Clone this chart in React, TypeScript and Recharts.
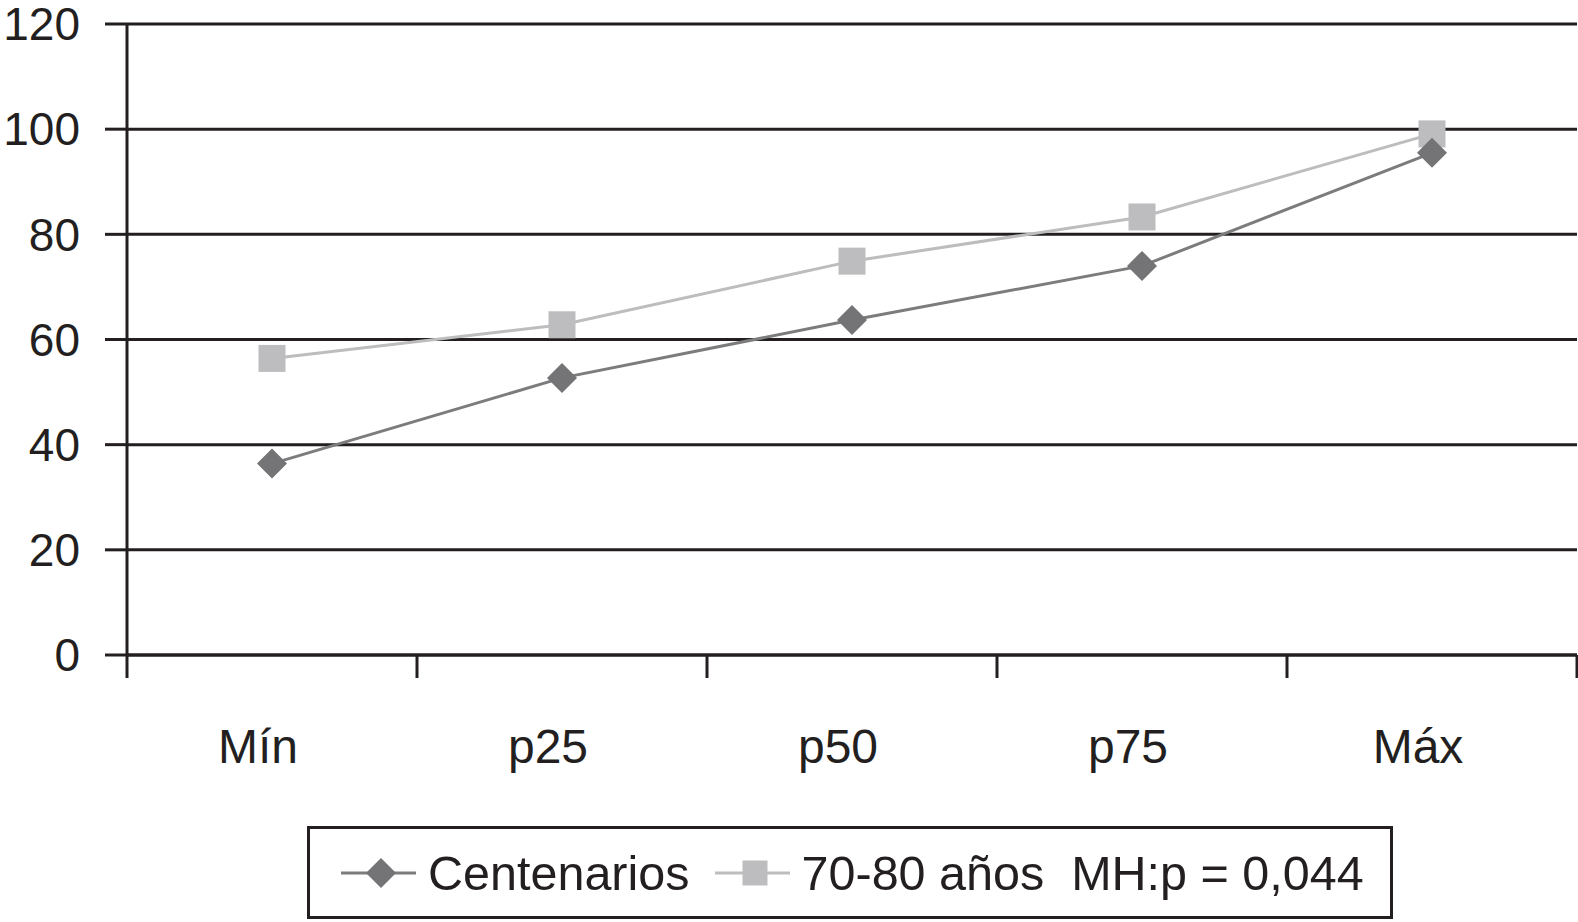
import { LineChart, Line, XAxis, YAxis, CartesianGrid } from 'recharts';

const categories = ['Mín', 'p25', 'p50', 'p75', 'Máx'];
const centenarios = [36.4, 52.7, 63.7, 74.0, 95.5];
const ancianos = [56.4, 62.8, 74.9, 83.3, 99.1];
const yTicks = [0, 20, 40, 60, 80, 100, 120];

const data = categories.map((cat, i) => ({ cat, centenarios: centenarios[i], ancianos: ancianos[i] }));

const INK = '#231f20';
const DARK = '#747476';
const LIGHT = '#bdbdbf';
const FONT = '"Liberation Sans", Arial, Helvetica, sans-serif';
const BAND = 290;

function XTick(props: any) {
  const { x, y, payload, index } = props;
  return (
    <g>
      <line x1={x - BAND / 2} x2={x - BAND / 2} y1={y} y2={y + 23} stroke={INK} strokeWidth={3} />
      {index === categories.length - 1 && (
        <line x1={x + BAND / 2} x2={x + BAND / 2} y1={y} y2={y + 23} stroke={INK} strokeWidth={3} />
      )}
      <text x={x - 14} y={y + 108} textAnchor="middle" fontSize={48} fill={INK} fontFamily={FONT}>
        {payload.value}
      </text>
    </g>
  );
}

function Diamond({ cx, cy, fill, r = 15 }: any) {
  return <path d={`M${cx},${cy - r}L${cx + r},${cy}L${cx},${cy + r}L${cx - r},${cy}Z`} fill={fill} />;
}

function Square({ cx, cy, fill, s = 27 }: any) {
  return <rect x={cx - s / 2} y={cy - s / 2} width={s} height={s} fill={fill} />;
}

function LegendIcon({ kind }: { kind: 'diamond' | 'square' }) {
  const color = kind === 'diamond' ? DARK : LIGHT;
  return (
    <svg width={75} height={34} style={{ display: 'block' }}>
      <line x1={0} x2={75} y1={17} y2={17} stroke={kind === 'diamond' ? '#7c7c7e' : LIGHT} strokeWidth={3} />
      {kind === 'diamond' ? <Diamond cx={40} cy={17} fill={color} r={15} /> : <Square cx={40} cy={17} fill={color} s={25} />}
    </svg>
  );
}

export default function App() {
  return (
    <div style={{ position: 'absolute', left: 0, top: 0, width: 1578, height: 922, background: '#fff', fontFamily: FONT }}>
      <LineChart width={1578} height={922} data={data} margin={{ top: 24, right: 1, left: 0, bottom: 167 }}>
        <CartesianGrid horizontal vertical={false} stroke={INK} strokeWidth={3} />
        <XAxis
          dataKey="cat"
          height={100}
          padding={{ left: BAND / 2, right: BAND / 2 }}
          axisLine={{ stroke: INK, strokeWidth: 3 }}
          tickLine={false}
          tickSize={0}
          tickMargin={0}
          interval={0}
          tick={<XTick />}
        />
        <YAxis
          width={127}
          domain={[0, 120]}
          ticks={yTicks}
          interval={0}
          axisLine={{ stroke: INK, strokeWidth: 3 }}
          tickLine={{ stroke: INK, strokeWidth: 3 }}
          tickSize={22}
          tickMargin={25}
          tick={{ fontSize: 46, fill: INK, fontFamily: FONT }}
        />
        <Line
          dataKey="ancianos"
          stroke={LIGHT}
          strokeWidth={3}
          isAnimationActive={false}
          dot={(p: any) => <Square key={`a${p.index}`} cx={p.cx} cy={p.cy} fill={LIGHT} />}
          activeDot={false}
        />
        <Line
          dataKey="centenarios"
          stroke="#7c7c7e"
          strokeWidth={3}
          isAnimationActive={false}
          dot={(p: any) => <Diamond key={`c${p.index}`} cx={p.cx} cy={p.cy} fill={DARK} />}
          activeDot={false}
        />
      </LineChart>
      <div
        style={{
          position: 'absolute',
          left: 307,
          top: 826,
          width: 1086,
          height: 93,
          border: `3px solid ${INK}`,
          boxSizing: 'border-box',
          display: 'flex',
          alignItems: 'center',
          paddingLeft: 31,
          fontSize: 48.5,
          color: INK,
          whiteSpace: 'pre',
        }}
      >
        <LegendIcon kind="diamond" />
        <span style={{ marginLeft: 12, marginRight: 25 }}>Centenarios</span>
        <LegendIcon kind="square" />
        <span style={{ marginLeft: 12 }}>{'70-80 años  MH:p = 0,044'}</span>
      </div>
    </div>
  );
}
